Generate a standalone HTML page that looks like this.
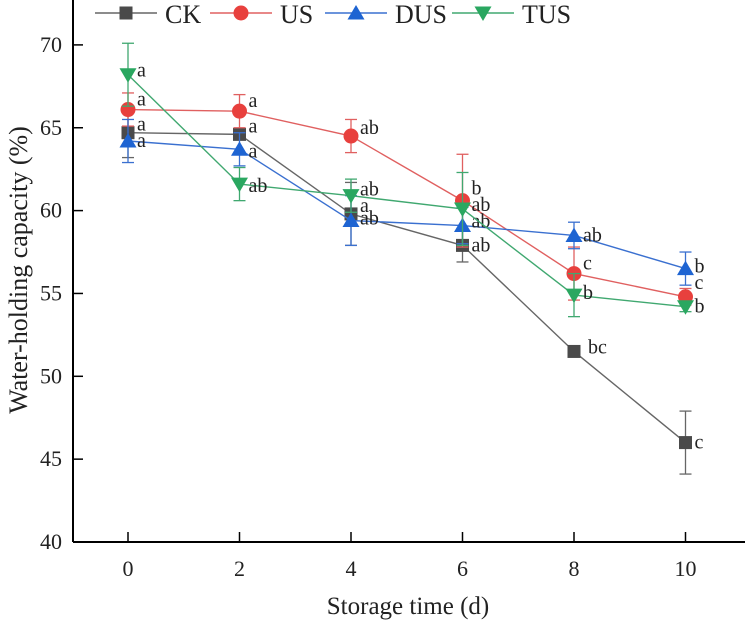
<!DOCTYPE html>
<html><head><meta charset="utf-8"><style>
html,body{margin:0;padding:0;background:#fff;}
svg{display:block;font-family:"Liberation Serif",serif;}
</style></head><body>
<svg id="chart" width="745" height="624"></svg>
<script>
const days=[0,2,4,6,8,10];
const yTicks=[40,45,50,55,60,65,70];
const seriesNames=["CK","US","DUS","TUS"];
const ckVals=[64.7,64.6,59.8,57.9,51.5,46.0];
const usVals=[66.1,66.0,64.5,60.6,56.2,54.8];
const dusVals=[64.2,63.7,59.4,59.1,58.5,56.5];
const tusVals=[68.2,61.6,60.9,60.1,54.9,54.2];
const ckErr=[1.5,0.3,1.9,1.0,0.3,1.9];
const usErr=[1.0,1.0,1.0,2.8,1.6,0.5];
const dusErr=[1.3,1.0,1.5,1.1,0.8,1.0];
const tusErr=[1.9,1.0,1.0,2.2,1.3,0.3];
const ckLab=["a","a","a","ab","bc","c"];
const usLab=["a","a","ab","b","c","c"];
const dusLab=["a","a","ab","ab","ab","b"];
const tusLab=["a","ab","ab","ab","b","b"];

const NS="http://www.w3.org/2000/svg";
const svg=document.getElementById('chart');
const X0=73,Y0=542;
const x=d=>128+d*55.75;
const y=v=>Y0-(v-40)*16.57;
function el(t,a,p){const e=document.createElementNS(NS,t);for(const k in a)e.setAttribute(k,a[k]);(p||svg).appendChild(e);return e;}

const ax=el('g',{});


el('line',{x1:X0,y1:0,x2:X0,y2:Y0,stroke:'#000','stroke-width':2},ax);
el('line',{x1:X0,y1:Y0,x2:745,y2:Y0,stroke:'#000','stroke-width':2},ax);
days.forEach(d=>{
  el('line',{x1:x(d),y1:Y0,x2:x(d),y2:Y0-10,stroke:'#000','stroke-width':1.5},ax);
  const t=el('text',{x:x(d),y:Y0+34,'font-size':22,'text-anchor':'middle',fill:'#222'},ax);
  t.textContent=d;
  
  
});
yTicks.forEach(v=>{
  el('line',{x1:X0,y1:y(v),x2:X0+10,y2:y(v),stroke:'#000','stroke-width':1.5},ax);
  const t=el('text',{x:X0-11,y:y(v)+7,'font-size':22,'text-anchor':'end',fill:'#222'},ax);
  t.textContent=v;
  
  
});
const xt=el('text',{x:408,y:614,'font-size':25,'text-anchor':'middle',fill:'#222'});
xt.textContent='Storage time (d)';


const yt=el('text',{x:0,y:0,'font-size':26,'text-anchor':'middle',fill:'#222',transform:'translate(27,270) rotate(-90)'});
yt.textContent='Water-holding capacity (%)';



const colors=['#4a4a4a','#e8403d','#1e64d2','#2aa760'];
const lineCols=['#666','#e06060','#3a70d0','#40a870'];
const allVals=[ckVals,usVals,dusVals,tusVals];
const allErr=[ckErr,usErr,dusErr,tusErr];
const allLab=[ckLab,usLab,dusLab,tusLab];
const labOff=[[-2,-2,-2,6,6,6],[-4,-4,-2,-6,-4,-8],[6,8,4,2,6,4],[2,8,0,2,4,6]];

function marker(i,cx,cy,g){
  if(i===0) return el('rect',{x:cx-6.5,y:cy-6.5,width:13,height:13,fill:colors[0]},g);
  if(i===1) return el('circle',{cx:cx,cy:cy,r:7.5,fill:colors[1]},g);
  if(i===2) return el('polygon',{points:`${cx},${cy-8} ${cx-8.5},${cy+6.5} ${cx+8.5},${cy+6.5}`,fill:colors[2]},g);
  return el('polygon',{points:`${cx},${cy+8} ${cx-8.5},${cy-6.5} ${cx+8.5},${cy-6.5}`,fill:colors[3]},g);
}
[0,1,2,3].forEach(i=>{
  const g=el('g',{});
  
  
  const vals=allVals[i],err=allErr[i];
  el('polyline',{points:days.map((d,k)=>x(d)+','+y(vals[k])).join(' '),fill:'none',stroke:lineCols[i],'stroke-width':1.4},g);
  days.forEach((d,k)=>{
    const cx=x(d),top=y(vals[k]+err[k]),bot=y(vals[k]-err[k]);
    el('line',{x1:cx,y1:top,x2:cx,y2:bot,stroke:lineCols[i],'stroke-width':1.3},g);
    el('line',{x1:cx-6,y1:top,x2:cx+6,y2:top,stroke:lineCols[i],'stroke-width':1.3},g);
    el('line',{x1:cx-6,y1:bot,x2:cx+6,y2:bot,stroke:lineCols[i],'stroke-width':1.3},g);
  });
  days.forEach((d,k)=>{
    const m=marker(i,x(d),y(vals[k]),g);
    
    
    const t=el('text',{x:x(d)+(k===4&&i===0?14:9),y:y(vals[k])+labOff[i][k]+(k===4&&i===0?-4:0),'font-size':20,fill:'#222'},g);
    t.textContent=allLab[i][k];
    
    
  });
});

const lg=el('g',{});


const lx=[95,210,325,452];
seriesNames.forEach((n,i)=>{
  const e=el('g',{},lg);
  
  
  el('line',{x1:lx[i],y1:13,x2:lx[i]+62,y2:13,stroke:lineCols[i],'stroke-width':1.4},e);
  marker(i,lx[i]+31,13,e);
  const t=el('text',{x:lx[i]+70,y:23,'font-size':26,fill:'#222'},e);
  t.textContent=n;
});
</script>
</body></html>
